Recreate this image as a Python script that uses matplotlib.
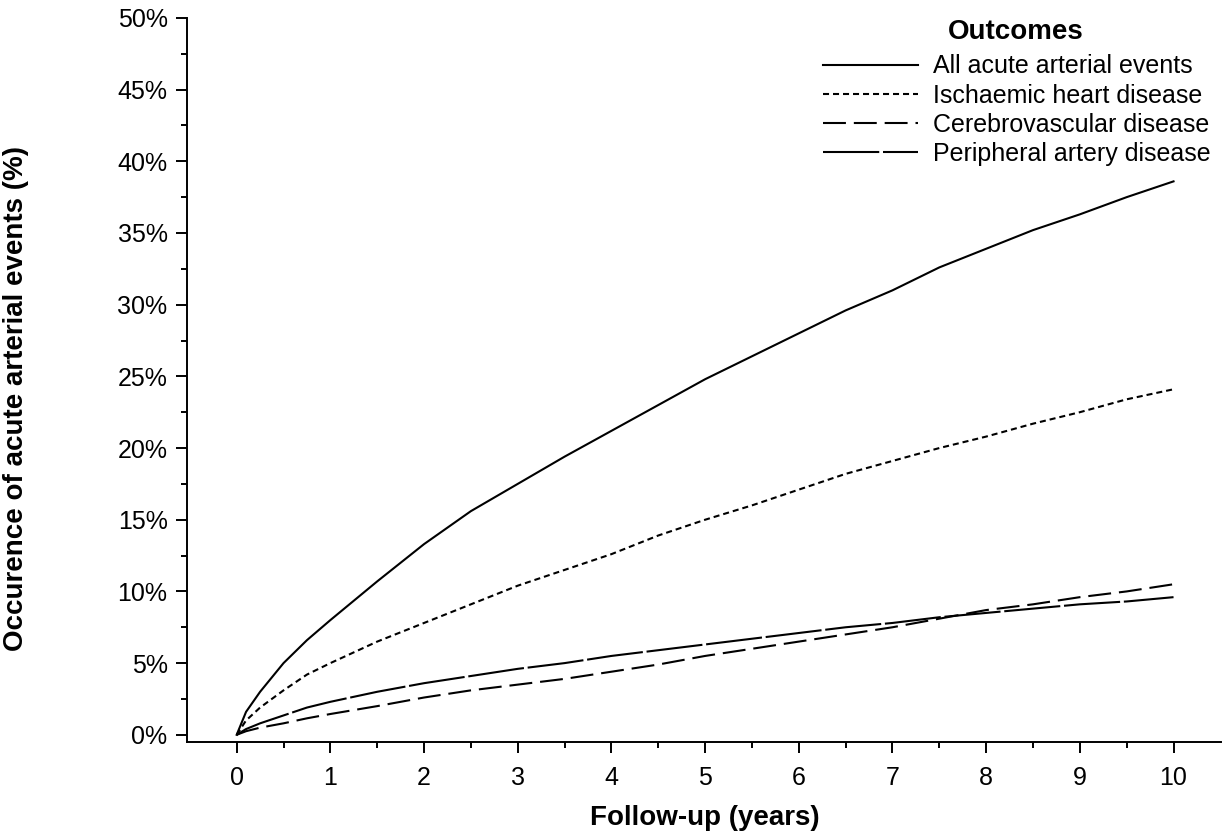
import numpy as np
import matplotlib
matplotlib.use("Agg")
import matplotlib.pyplot as plt
from matplotlib.ticker import MultipleLocator, FixedLocator, FuncFormatter

plt.rcParams['font.family'] = ['Liberation Sans', 'DejaVu Sans']

# follow-up time (years)
years = [0, 0.1, 0.25, 0.5, 0.75, 1, 1.5, 2, 2.5, 3, 3.5, 4, 4.5, 5,
         5.5, 6, 6.5, 7, 7.5, 8, 8.5, 9, 9.5, 10]

# cumulative occurrence (%)
all_events = [0, 1.6, 3.0, 5.0, 6.6, 8.0, 10.7, 13.3, 15.6, 17.5, 19.4, 21.2,
              23.0, 24.8, 26.4, 28.0, 29.6, 31.0, 32.6, 33.9, 35.2, 36.3, 37.5, 38.6]
ischaemic = [0, 1.0, 1.9, 3.1, 4.2, 5.0, 6.5, 7.8, 9.1, 10.4, 11.5, 12.6,
             13.9, 15.0, 16.0, 17.1, 18.2, 19.1, 20.0, 20.8, 21.7, 22.5, 23.4, 24.1]
cerebro = [0, 0.25, 0.5, 0.8, 1.15, 1.45, 2.0, 2.6, 3.1, 3.5, 3.9, 4.4,
           4.9, 5.5, 6.0, 6.5, 7.0, 7.5, 8.1, 8.7, 9.1, 9.6, 10.0, 10.5]
periph = [0, 0.4, 0.8, 1.35, 1.9, 2.3, 3.0, 3.6, 4.1, 4.6, 5.0, 5.5,
          5.9, 6.3, 6.7, 7.1, 7.5, 7.8, 8.2, 8.5, 8.8, 9.1, 9.3, 9.6]

labels = ['All acute arterial events', 'Ischaemic heart disease',
          'Cerebrovascular disease', 'Peripheral artery disease']

fig = plt.figure(figsize=(12.24, 8.38), dpi=100)
ax = fig.add_axes([0.1528, 0.1146, 0.845, 0.864])

lw = 1.5
ax.plot(years, all_events, color='black', lw=lw, label=labels[0])
ax.plot(years, ischaemic, color='black', lw=lw, dashes=(2.9, 1.9), label=labels[1])
ax.plot(years, cerebro, color='black', lw=lw, dashes=(11, 3.8), label=labels[2])
ax.plot(years, periph, color='black', lw=lw, dashes=(27, 1.8), label=labels[3])

ax.set_xlim(-0.53, 10.51)
ax.set_ylim(-0.5, 50)
ax.spines['top'].set_visible(False)
ax.spines['right'].set_visible(False)
ax.spines['left'].set_linewidth(1.4)
ax.spines['bottom'].set_linewidth(1.4)

ax.xaxis.set_major_locator(MultipleLocator(1))
ax.xaxis.set_minor_locator(FixedLocator(np.arange(0.5, 10, 1.0)))
ax.yaxis.set_major_locator(MultipleLocator(5))
ax.yaxis.set_minor_locator(MultipleLocator(2.5))
ax.yaxis.set_major_formatter(FuncFormatter(lambda v, p: '%d%%' % round(v)))
ax.tick_params(which='major', length=8, width=1.4, labelsize=18)
ax.tick_params(which='minor', length=4, width=1.4)
ax.tick_params(axis='x', which='major', pad=9)
ax.tick_params(axis='y', which='major', pad=6)

fig.text(0.576, 0.024, 'Follow-up (years)', ha='center', va='center',
         fontsize=20, fontweight='bold')
fig.text(0.013, 0.524, 'Occurence of acute arterial events (%)', ha='center',
         va='center', rotation=90, fontsize=20, fontweight='bold')

leg = ax.legend(loc='upper left', bbox_to_anchor=(0.6724, 0.935),
                bbox_transform=fig.transFigure, frameon=False,
                fontsize=18, handlelength=3.8, handletextpad=0.6,
                labelspacing=0.21, borderpad=0, borderaxespad=0)
fig.text(0.830, 0.9615, 'Outcomes', ha='center', va='center',
         fontsize=20, fontweight='bold')

fig.savefig('out.png', dpi=100)
